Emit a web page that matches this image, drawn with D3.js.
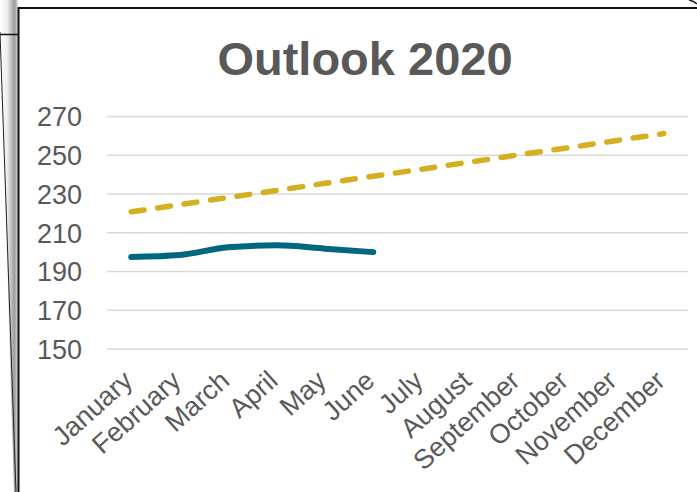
<!DOCTYPE html>
<html>
<head>
<meta charset="utf-8">
<script src="https://cdn.jsdelivr.net/npm/d3@7/dist/d3.min.js"></script>
<style>
  html, body { margin: 0; padding: 0; background: #fff; }
  svg { display: block; }
</style>
</head>
<body>
<svg id="chart" width="697" height="492"></svg>
<script>
const months = ["January","February","March","April","May","June","July","August","September","October","November","December"];
const actual = [197.5, 198.5, 202.5, 203.5, 201.8, 200];
const outlook = [220.8, 224.5, 228.2, 231.8, 235.5, 239.2, 242.8, 246.5, 250.2, 253.8, 257.5, 261.2];
const yTicks = [150, 170, 190, 210, 230, 250, 270];
const title = "Outlook 2020";

const svg = d3.select("#chart");
const W = 697, H = 492;

// decorative page edges behind the chart
const defs = svg.append("defs");
const grad = defs.append("linearGradient").attr("id", "shadow").attr("x1", "0").attr("x2", "1");
grad.append("stop").attr("offset", "0").attr("stop-color", "#ffffff");
grad.append("stop").attr("offset", "0.4").attr("stop-color", "#ededed");
grad.append("stop").attr("offset", "0.8").attr("stop-color", "#9c9c9c");
grad.append("stop").attr("offset", "1").attr("stop-color", "#e0e0e0");
svg.append("path").attr("d", "M0,0 L18,0 L18,492 L14,492 L0,30 Z").attr("fill", "url(#shadow)");
svg.append("line").attr("x1", 0).attr("y1", 32).attr("x2", 16).attr("y2", 492).attr("stroke", "#222").attr("stroke-width", 1);
svg.append("line").attr("x1", 0).attr("y1", 34.5).attr("x2", 18).attr("y2", 34.5).attr("stroke", "#111").attr("stroke-width", 1.5);
svg.append("path").attr("d", "M689,0 Q694,1 697,4").attr("fill", "none").attr("stroke", "#222").attr("stroke-width", 1.5);

// chart frame
svg.append("rect").attr("x", 18.5).attr("y", 8).attr("width", W).attr("height", H).attr("fill", "#fff");
svg.append("path").attr("d", `M18.5,${H} L18.5,8 L${W},8`).attr("fill", "none").attr("stroke", "#111").attr("stroke-width", 2);

const x = d3.scaleBand().domain(months).range([107, 688]);
const cx = m => x(m) + x.bandwidth() / 2;
const y = d3.scaleLinear().domain([150, 270]).range([349, 116.5]);

// gridlines
svg.append("g").selectAll("line").data(yTicks).join("line")
  .attr("x1", 107).attr("x2", 688)
  .attr("y1", d => y(d)).attr("y2", d => y(d))
  .attr("stroke", "#d9d9d9").attr("stroke-width", 1.5);

// y axis labels
const yAxis = d3.axisLeft(y).tickValues(yTicks).tickSize(0).tickPadding(0);
const gy = svg.append("g").attr("transform", "translate(82,0)").call(yAxis);
gy.select(".domain").remove();
gy.selectAll("text").attr("font-family", "Liberation Sans, Arial, sans-serif")
  .attr("font-size", 27).attr("fill", "#595959").attr("dy", "0.35em");

// x axis labels
const xAxis = d3.axisBottom(x).tickSize(0).tickPadding(0);
const gx = svg.append("g").call(xAxis);
gx.select(".domain").remove();
gx.selectAll(".tick").attr("transform", d => `translate(${cx(d) + 3},383)`);
gx.selectAll("text")
  .attr("font-family", "Liberation Sans, Arial, sans-serif")
  .attr("font-size", 27).attr("fill", "#595959")
  .attr("y", 0).attr("dy", 0)
  .attr("text-anchor", "end")
  .attr("transform", "rotate(-42)");

// title
svg.append("text").attr("x", 365).attr("y", 75).attr("text-anchor", "middle")
  .attr("font-family", "Liberation Sans, Arial, sans-serif").attr("font-weight", "bold")
  .attr("font-size", 47).attr("fill", "#595959").text(title);

// outlook dashed line
const lineO = d3.line().x((d, i) => cx(months[i])).y(d => y(d));
svg.append("path").datum(outlook).attr("d", lineO)
  .attr("fill", "none").attr("stroke", "#D4AF1F").attr("stroke-width", 5.5)
  .attr("stroke-linecap", "round").attr("stroke-dasharray", "13,13.7");

// actual solid line
const lineA = d3.line().x((d, i) => cx(months[i])).y(d => y(d)).curve(d3.curveMonotoneX);
svg.append("path").datum(actual).attr("d", lineA)
  .attr("fill", "none").attr("stroke", "#00677F").attr("stroke-width", 6)
  .attr("stroke-linecap", "round").attr("stroke-linejoin", "round");
</script>
</body>
</html>
